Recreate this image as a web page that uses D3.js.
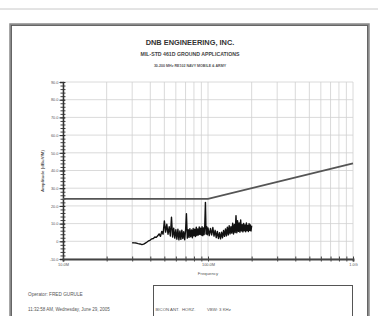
<!DOCTYPE html>
<html>
<head>
<meta charset="utf-8">
<script src="https://cdn.jsdelivr.net/npm/d3@7"></script>
<style>
  body { margin: 0; background: #fff; }
  svg { display: block; font-family: "Liberation Sans", Arial, sans-serif; }
</style>
</head>
<body>
<script>
// RE102 scan data (MHz / dBuV/m)
const traceFreq = [30, 31, 32, 33, 34, 35, 36, 37, 38, 39, 40, 41, 42, 43, 44, 45, 46, 47, 48, 49,
    50, 51, 52, 53, 54, 55, 56, 57, 58, 59, 60, 61, 62, 63, 64, 65, 66, 67, 68, 69,
    70, 71, 72, 73, 74, 75, 76, 77, 78, 79, 80, 81, 82, 83, 84, 85, 86, 87, 88, 89,
    90, 91, 92, 93, 94, 95, 96, 97, 98, 99, 100, 102, 104, 106, 108, 110, 112, 114, 116, 118,
    120, 122, 124, 126, 128, 130, 132, 134, 136, 138, 140, 142, 144, 146, 148, 150, 152, 154, 156, 158,
    160, 162, 164, 166, 168, 170, 172, 174, 176, 178, 180, 182, 184, 186, 188, 190, 192, 194, 196, 198, 200];
const traceAmp = [-0.8, -0.9, -1.0, -1.3, -1.5, -1.9, -1.6, -1.0, -0.4, 0.3, 0.7, 1.4, 1.6, 2.4, 2.2, 3.1, 4.2, 2.8, 5.6, 4.0,
    11.5, 5.2, 9.6, 4.0, 8.2, 3.0, 13.6, 2.4, 7.4, 1.8, 6.5, 1.2, 6.8, 0.8, 5.9, 1.1, 6.3, 1.6, 5.4, 0.9,
    6.0, 15.6, 1.8, 6.6, 2.2, 7.1, 2.6, 6.4, 2.0, 7.2, 3.1, 6.8, 2.7, 7.9, 3.3, 7.0, 3.6, 8.1, 3.9, 7.4,
    3.5, 8.2, 3.2, 7.5, 3.8, 8.9, 22.0, 4.1, 8.3, 3.7, 7.6, 3.2, 7.3, 3.6, 7.8, 2.9, 6.2, 2.1, 5.6, 1.6,
    4.8, 1.4, 5.2, 2.0, 6.1, 2.8, 7.0, 3.1, 8.0, 3.6, 8.8, 4.2, 8.3, 4.6, 10.2, 4.1, 9.5, 5.0, 14.5, 4.8,
    11.6, 5.6, 10.4, 5.2, 12.0, 5.9, 9.4, 5.3, 10.1, 6.0, 9.2, 5.4, 10.3, 6.1, 9.0, 5.5, 10.0, 6.2, 9.3, 5.8, 8.8];

const limitFreq = [10, 100, 1000];
const limitLevel = [24, 24, 44];

const yMajor = [90, 80, 70, 60, 50, 40, 30, 20, 10, 0, -10];
const yLabels = ["90.0", "80.0", "70.0", "60.0", "50.0", "40.0", "30.0", "20.0", "10.0", "0", "-10.0"];
const xMajor = [10, 100, 1000];
const xLabels = ["10.0M", "100.0M", "1.0G"];
const xGrid = [20, 30, 40, 50, 60, 70, 80, 90, 200, 300, 400, 500, 600, 700, 800, 900];

const titles = ["DNB ENGINEERING, INC.", "MIL-STD 461D GROUND APPLICATIONS", "30-200 MHz RE102 NAVY MOBILE & ARMY"];
const boxTexts = [["BICON ANT.", 155.5], ["HORZ.", 182], ["VBW: 3 KHz", 207]];

const svg = d3.select("body").append("svg")
    .attr("width", 378)
    .attr("height", 316);

// page top edge + frame
svg.append("line")
    .attr("x1", 0).attr("x2", 378)
    .attr("y1", 9).attr("y2", 9)
    .attr("stroke", "#c8c8c8")
    .attr("stroke-width", 1);

svg.append("rect")
    .attr("x", 10.5).attr("y", 24.5)
    .attr("width", 358).attr("height", 300)
    .attr("fill", "none")
    .attr("stroke", "#8a8a8a")
    .attr("stroke-width", 2.5);
svg.append("rect")
    .attr("x", 11.5).attr("y", 25.5)
    .attr("width", 356).attr("height", 300)
    .attr("fill", "none")
    .attr("stroke", "#555")
    .attr("stroke-width", 0.8);

// titles
svg.append("text").attr("x", 190).attr("y", 45)
    .attr("text-anchor", "middle").attr("font-size", 7.4).attr("font-weight", "bold")
    .attr("fill", "#333").text(titles[0]);
svg.append("text").attr("x", 190).attr("y", 55.5)
    .attr("text-anchor", "middle").attr("font-size", 5.2).attr("font-weight", "bold")
    .attr("fill", "#444").text(titles[1]);
svg.append("text").attr("x", 190).attr("y", 67)
    .attr("text-anchor", "middle").attr("font-size", 3.6).attr("font-weight", "bold")
    .attr("fill", "#555").text(titles[2]);

const x = d3.scaleLog().domain([10, 1000]).range([63, 353]);
const y = d3.scaleLinear().domain([-10, 90]).range([259, 82]);

// grid
svg.append("g").selectAll("line")
    .data(xGrid.concat(xMajor))
    .join("line")
    .attr("x1", d => x(d)).attr("x2", d => x(d))
    .attr("y1", y(90)).attr("y2", y(-10))
    .attr("stroke", "#d0d0d0")
    .attr("stroke-width", 0.8);

svg.append("g").selectAll("line")
    .data(yMajor)
    .join("line")
    .attr("x1", x(10)).attr("x2", x(1000))
    .attr("y1", d => y(d)).attr("y2", d => y(d))
    .attr("stroke", "#d0d0d0")
    .attr("stroke-width", 0.8);

// y axis: minor ruler ticks every 2 dB, then labelled majors
const yMinor = svg.append("g")
    .attr("transform", `translate(${x(10)},0)`)
    .call(d3.axisLeft(y).tickValues(d3.range(-10, 91, 2)).tickSize(2.5).tickFormat(""));
yMinor.select(".domain").remove();
yMinor.selectAll("line").attr("stroke", "#444").attr("stroke-width", 1).attr("x2", 2.5).attr("x1", -2.5);

const yAxis = svg.append("g")
    .attr("transform", `translate(${x(10)},0)`)
    .call(d3.axisLeft(y).tickValues(yMajor).tickSize(3).tickPadding(1.5)
        .tickFormat((d, i) => yLabels[i]));
yAxis.select(".domain").attr("stroke", "#333").attr("stroke-width", 1.5);
yAxis.selectAll("line").attr("stroke", "#333").attr("stroke-width", 1).attr("x2", 2).attr("x1", -3.5);
yAxis.selectAll("text").attr("font-size", 3.9).attr("fill", "#555").attr("font-family", "Liberation Sans");

svg.append("text")
    .attr("transform", `translate(44,171) rotate(-90)`)
    .attr("text-anchor", "middle")
    .attr("font-size", 4.4).attr("font-weight", "bold").attr("fill", "#555")
    .text("Amplitude (dBuV/M)");

// x axis
const xAxis = svg.append("g")
    .attr("transform", `translate(0,${y(-10)})`)
    .call(d3.axisBottom(x).tickValues(xGrid.concat(xMajor)).tickSize(2.5).tickPadding(2)
        .tickFormat(d => xMajor.includes(d) ? xLabels[xMajor.indexOf(d)] : ""));
xAxis.select(".domain").attr("stroke", "#444").attr("stroke-width", 2);
xAxis.selectAll("line").attr("stroke", "#444").attr("stroke-width", 1).attr("y1", -2.5);
xAxis.selectAll("text").attr("font-size", 3.9).attr("fill", "#555").attr("font-family", "Liberation Sans");

svg.append("text").attr("x", x(100)).attr("y", 274.5)
    .attr("text-anchor", "middle").attr("font-size", 4.3).attr("fill", "#555")
    .text("Frequency");

// limit line
const limitData = limitFreq.map((f, i) => [f, limitLevel[i]]);
svg.append("path")
    .datum(limitData)
    .attr("fill", "none")
    .attr("stroke", "#555")
    .attr("stroke-width", 1.8)
    .attr("d", d3.line().x(d => x(d[0])).y(d => y(d[1])));

// measured trace
const traceData = traceFreq.map((f, i) => [f, traceAmp[i]]);
svg.append("path")
    .datum(traceData)
    .attr("fill", "none")
    .attr("stroke", "#111")
    .attr("stroke-width", 1.4)
    .attr("stroke-linejoin", "round")
    .attr("d", d3.line().x(d => x(d[0])).y(d => y(d[1])));

// footer
svg.append("text").attr("x", 28).attr("y", 295.5)
    .attr("font-size", 4.7).attr("fill", "#555").text("Operator: FRED GURULE");
svg.append("text").attr("x", 28).attr("y", 310.5)
    .attr("font-size", 4.5).attr("fill", "#555").text("11:32:58 AM, Wednesday, June 29, 2005");

svg.append("rect")
    .attr("x", 153.5).attr("y", 285.5)
    .attr("width", 199).attr("height", 40)
    .attr("fill", "none")
    .attr("stroke", "#555")
    .attr("stroke-width", 1);
svg.append("g").selectAll("text")
    .data(boxTexts)
    .join("text")
    .attr("x", d => d[1]).attr("y", 310.5)
    .attr("font-size", 4.3).attr("fill", "#555")
    .text(d => d[0]);
</script>
</body>
</html>
